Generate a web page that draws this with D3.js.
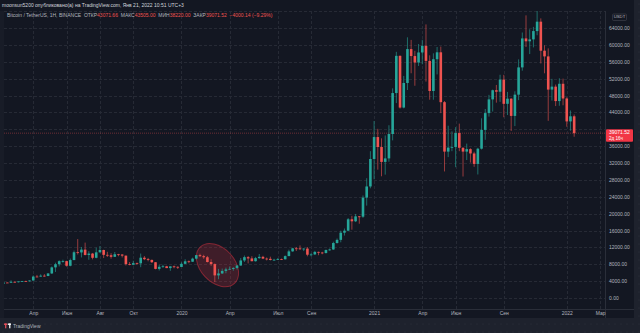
<!DOCTYPE html>
<html>
<head>
<meta charset="utf-8">
<script src="https://cdn.jsdelivr.net/npm/d3@7"></script>
<style>
  html, body { margin: 0; padding: 0; background: #1e222d; overflow: hidden; }
  svg { display: block; font-family: "Liberation Sans", Arial, sans-serif; }
</style>
</head>
<body>
<svg id="chart" width="640" height="333"></svg>
<script>
// Weekly BTC/USDT candles (Binance), first bar starts on this Monday
const firstWeek = "2019-01-28";

const opens = [
  3530, 3410, 3660, 3620, 3840, 3830, 3940, 4010, 3990, 4150,
  5080, 5070, 5290, 5210, 5820, 7260, 8000, 8730, 8740, 7640,
  8990, 10850, 10800, 11470, 10200, 10530, 9530, 10820, 11380, 10230,
  10140, 9760, 10370, 10310, 10040, 8040, 7880, 8270, 8220, 9550,
  9200, 9030, 8480, 6900, 7400, 7510, 7090, 7500, 7390,
  7360, 8100, 8700, 8600, 9330, 10160, 9920, 9660, 8530, 8040,
  5360, 5820, 6420, 6780, 6900, 7120, 7700, 8900, 9680, 9380,
  8720, 9450, 9760, 9340, 9290, 9010, 9070, 9240, 9170, 9930,
  11050, 11770, 11760, 11650, 11710, 10260, 10330, 10930, 10770, 10670,
  11370, 11500, 13030, 13780, 15480, 15960, 18660, 18180, 19350, 19270,
  23800, 26440,
  32950, 38150, 35790, 32260, 33090, 38870, 48580, 57400, 45140, 50970,
  59000, 57350, 55820, 58200, 59770, 56200, 49070, 56600, 58240, 46420,
  34700, 35650, 35800, 39100, 35600, 34700, 35290, 34260, 31780, 35390,
  39850, 43830, 47080, 49250, 48900, 51770, 46030, 47250, 43160, 48200,
  54660, 61530, 60850, 61300, 63270, 65500, 58620, 57270, 49400, 50100,
  46680, 50780,
  47290, 41860, 43071.66
];
const highs = [
  3590, 3720, 3700, 4200, 3920, 3950, 4050, 4110, 4190, 5350,
  5470, 5610, 5650, 5900, 7470, 8370, 8940, 9080, 8830, 9350,
  11250, 13970, 12100, 13130, 11090, 10680, 11940, 12330, 11450, 10950,
  10630, 10900, 10460, 10360, 10070, 8520, 8830, 8410, 10540, 9940,
  9510, 9100, 8500, 7880, 7890, 7620, 7520, 7700, 7500,
  8460, 9190, 8900, 9560, 10160, 10500, 10250, 9970, 9190, 8180,
  6900, 6980, 7200, 7470, 7290, 7780, 9470, 10070, 9950, 9900,
  9740, 10430, 10000, 9600, 9800, 9290, 9470, 9340, 10100, 11450,
  11900, 12090, 12470, 11800, 12090, 10600, 11180, 10990, 10950, 11490,
  11720, 13350, 14100, 15960, 16480, 18950, 19480, 19920, 19420, 24300,
  28400, 34800,
  41950, 40100, 37850, 38530, 40950, 49700, 58350, 57500, 52640, 61790,
  61180, 58600, 60200, 61200, 64850, 57520, 58000, 59500, 59600, 46700,
  40840, 39500, 40500, 41330, 35750, 36600, 35500, 34670, 35600, 42600,
  44800, 48150, 49400, 50500, 52920, 52900, 48850, 47350, 49000, 56560,
  62930, 67000, 63700, 64270, 69000, 66280, 59900, 59180, 51950, 50600,
  52090, 52000,
  47570, 44450, 43505
];
const lows = [
  3340, 3370, 3560, 3600, 3650, 3670, 3800, 3920, 3900, 4100,
  4940, 5040, 5060, 5180, 5690, 6180, 7480, 8380, 7440, 7510,
  8970, 10310, 9610, 10100, 9070, 9160, 9410, 10800, 9460, 9740,
  9320, 9730, 9890, 9610, 7710, 7750, 7770, 7860, 7300, 8980,
  8700, 8300, 6790, 6520, 7180, 7080, 6440, 7050, 6870,
  7350, 8040, 8240, 8560, 9150, 9720, 9300, 8440, 7630, 3780,
  4450, 5700, 5860, 6760, 6460, 6760, 7630, 8530, 8200, 8700,
  8630, 9290, 9220, 8910, 8900, 8900, 9040, 9000, 9140, 9920,
  10960, 11130, 11380, 11120, 9880, 9880, 10200, 10140, 10370, 10530,
  11200, 11400, 12900, 13200, 14800, 15800, 16200, 18000, 17600, 19000,
  21900, 26000,
  28130, 30420, 28850, 29240, 32300, 37360, 46200, 44900, 44950, 49300,
  53270, 50310, 55000, 55400, 51300, 47000, 47000, 53000, 43820, 30000,
  33400, 34800, 31000, 34800, 28800, 32700, 32100, 31100, 29280, 35200,
  37500, 43000, 44200, 46300, 46500, 42840, 43370, 39600, 40750, 46900,
  53880, 59500, 57820, 59400, 62280, 55600, 53260, 42000, 46800, 45500,
  45560, 45680,
  40600, 39650, 38220
];
const closes = [
  3410, 3660, 3620, 3840, 3830, 3940, 4010, 3990, 4150, 5080,
  5070, 5290, 5210, 5820, 7260, 8000, 8730, 8740, 7640, 8990,
  10850, 10800, 11470, 10200, 10530, 9530, 10820, 11380, 10230, 10140,
  9760, 10370, 10310, 10040, 8040, 7880, 8270, 8220, 9550, 9200,
  9030, 8480, 6900, 7400, 7510, 7090, 7500, 7390, 7360,
  8100, 8700, 8600, 9330, 10160, 9920, 9660, 8530, 8040, 5360,
  5820, 6420, 6780, 6900, 7120, 7700, 8900, 9680, 9380, 8720,
  9450, 9760, 9340, 9290, 9010, 9070, 9240, 9170, 9930, 11050,
  11770, 11760, 11650, 11710, 10260, 10330, 10930, 10770, 10670, 11370,
  11500, 13030, 13780, 15480, 15960, 18660, 18180, 19350, 19270, 23800,
  26440, 32950,
  38150, 35790, 32260, 33090, 38870, 48580, 57400, 45140, 50970, 59000,
  57350, 55820, 58200, 59770, 56200, 49070, 56600, 58240, 46420, 34700,
  35650, 35800, 39100, 35600, 34700, 35290, 34260, 31780, 35390, 39850,
  43830, 47080, 49250, 48900, 51770, 46030, 47250, 43160, 48200, 54660,
  61530, 60850, 61300, 63270, 65500, 58620, 57270, 49400, 50100, 46680,
  50780, 47290,
  41860, 43070, 39071.52
];

// Price scale ticks and time axis labels
const priceTicks = [0, 4000, 8000, 12000, 16000, 20000, 24000, 28000, 32000,
  36000, 40000, 44000, 48000, 52000, 56000, 60000, 64000];
const timeTicks = ["2019-04-01", "2019-06-03", "2019-08-05", "2019-10-07",
  "2020-01-06", "2020-04-06", "2020-07-06", "2020-09-07",
  "2021-01-04", "2021-04-05", "2021-06-07", "2021-09-06",
  "2022-01-03", "2022-03-07"];
const timeLabels = ["Апр", "Июн", "Авг", "Окт", "2020", "Апр", "Июл", "Сен",
  "2021", "Апр", "Июн", "Сен", "2022", "Мар"];

// Highlighted area around the March 2020 crash
const markDate = "2020-03-14";
const markPrice = 7800;

const headerTitle = "moonsun5200 опубликовано(а) на TradingView.com, Янв 21, 2022 10:51 UTC+3";
const legendParts = [
  ["Bitcoin / TetherUS, 1Н, BINANCE  ОТКР", "#b2b5be"], ["43071.66", "#ef5350"],
  ["  МАКС", "#b2b5be"], ["43505.00", "#ef5350"],
  ["  МИН", "#b2b5be"], ["38220.00", "#ef5350"],
  ["  ЗАКР", "#b2b5be"], ["39071.52", "#ef5350"],
  ["  −4000.14 (−9.29%)", "#ef5350"]
];
const countdown = "2д 16ч";

// ---- layout ----
const W = 640, H = 333;
const pane = { left: 4, right: 605, top: 11, bottom: 309 };
const axisRight = 634, footerTop = 318;
const UP = "#26a69a", DOWN = "#ef5350";
const GRID = "#262a35", TEXT = "#b2b5be";

const svg = d3.select("#chart");
const defs = svg.append("defs");

const dots = defs.append("pattern").attr("id", "dots")
  .attr("width", 6).attr("height", 8).attr("patternUnits", "userSpaceOnUse");
dots.append("rect").attr("width", 6).attr("height", 8).attr("fill", "#1e222d");
dots.append("circle").attr("cx", 3).attr("cy", 4).attr("r", 0.5).attr("fill", "#2e3240");

defs.append("clipPath").attr("id", "paneClip").append("rect")
  .attr("x", pane.left).attr("y", pane.top)
  .attr("width", pane.right - pane.left).attr("height", pane.bottom - pane.top);

// frame
svg.append("rect").attr("width", W).attr("height", H).attr("fill", "url(#dots)");
svg.append("rect").attr("x", 0).attr("y", 0).attr("width", axisRight).attr("height", footerTop)
  .attr("fill", "#131722");
svg.append("rect").attr("x", 0).attr("y", pane.top).attr("width", pane.left).attr("height", footerTop - pane.top)
  .attr("fill", "#181c27");

const x = d3.scaleUtc()
  .domain([new Date("2018-12-31"), new Date("2022-03-07")])
  .range([-14.9, 600.1]);
const y = d3.scaleLinear().domain([0, 64000]).range([298, 28]);

const weeks = d3.utcMonday.range(new Date(firstWeek),
  d3.utcMonday.offset(new Date(firstWeek), opens.length));
const candles = weeks.map((d, i) => ({
  date: d, o: opens[i], h: highs[i], l: lows[i], c: closes[i]
}));
const last = candles[candles.length - 1];

// grid
const grid = svg.append("g");
grid.selectAll("line.h").data(priceTicks.concat([68000])).join("line")
  .attr("x1", pane.left).attr("x2", pane.right)
  .attr("y1", d => Math.round(y(d)) + 0.5).attr("y2", d => Math.round(y(d)) + 0.5)
  .attr("stroke", GRID).attr("stroke-width", 1).attr("stroke-dasharray", "3,2");
grid.selectAll("line.v").data(timeTicks).join("line")
  .attr("x1", d => Math.round(x(new Date(d))) + 0.5).attr("x2", d => Math.round(x(new Date(d))) + 0.5)
  .attr("y1", pane.top).attr("y2", pane.bottom)
  .attr("stroke", GRID).attr("stroke-width", 1).attr("stroke-dasharray", "3,2");

// annotation ellipse
const mx = x(new Date(markDate)), my = y(markPrice);
svg.append("ellipse")
  .attr("cx", 0).attr("cy", 0).attr("rx", 25).attr("ry", 17)
  .attr("transform", `translate(${mx},${my}) rotate(47)`)
  .attr("fill", "rgba(242,54,69,0.2)")
  .attr("stroke", "rgba(242,54,69,0.45)").attr("stroke-width", 1);

// last price line (drawn under the candles)
svg.append("line")
  .attr("x1", pane.left).attr("x2", pane.right)
  .attr("y1", y(last.c)).attr("y2", y(last.c))
  .attr("stroke", DOWN).attr("stroke-opacity", 0.4).attr("stroke-width", 1)
  .attr("stroke-dasharray", "1,1");

// candles
const plot = svg.append("g").attr("clip-path", "url(#paneClip)");
const bw = 2.6;
const cg = plot.selectAll("g.c").data(candles).join("g");
cg.append("line")
  .attr("x1", d => x(d.date)).attr("x2", d => x(d.date))
  .attr("y1", d => y(d.h)).attr("y2", d => y(d.l))
  .attr("stroke", d => d.c >= d.o ? UP : DOWN).attr("stroke-opacity", 0.6).attr("stroke-width", 1);
cg.append("rect")
  .attr("x", d => x(d.date) - bw / 2).attr("width", bw)
  .attr("y", d => y(Math.max(d.o, d.c)))
  .attr("height", d => Math.max(0.8, Math.abs(y(d.o) - y(d.c))))
  .attr("fill", d => d.c >= d.o ? UP : DOWN);

// pane borders
svg.append("line").attr("x1", pane.right + 0.5).attr("x2", pane.right + 0.5)
  .attr("y1", pane.top).attr("y2", footerTop).attr("stroke", "#2a2e39");
svg.append("line").attr("x1", pane.left).attr("x2", axisRight)
  .attr("y1", pane.bottom + 0.5).attr("y2", pane.bottom + 0.5).attr("stroke", "#2a2e39");

// price axis: labels covered by the last-price tag are left out
const ly = y(last.c);
const shownTicks = priceTicks.filter(v => Math.abs(y(v) - (ly + 2)) > 9);
const yAxis = d3.axisRight(y).tickValues(shownTicks).tickFormat(d3.format(".2f"))
  .tickSize(0).tickPadding(4);
const ya = svg.append("g").attr("transform", `translate(${pane.right},0)`).call(yAxis);
ya.select(".domain").remove();
ya.selectAll("text").attr("fill", TEXT).style("font-size", "5px")
  .style("font-family", "'Liberation Sans', Arial, sans-serif");

// currency tag
svg.append("rect").attr("x", 612.5).attr("y", 14).attr("width", 14).attr("height", 6.5)
  .attr("rx", 1).attr("fill", "#131722").attr("stroke", "#434651").attr("stroke-width", 0.6);
svg.append("text").attr("x", 619.5).attr("y", 17.3).attr("text-anchor", "middle")
  .attr("dominant-baseline", "middle").attr("fill", TEXT).style("font-size", "4.3px").text("USDT");

// last price tag
svg.append("rect").attr("x", pane.right + 1).attr("y", ly - 4).attr("width", 27).attr("height", 12.5)
  .attr("rx", 1).attr("fill", "#f23645");
svg.append("text").attr("x", 609).attr("y", ly).attr("dominant-baseline", "middle")
  .attr("fill", "#ffffff").style("font-size", "5px").text(d3.format(".2f")(last.c));
svg.append("text").attr("x", 609).attr("y", ly + 5.5).attr("dominant-baseline", "middle")
  .attr("fill", "#ffffff").style("font-size", "4.6px").text(countdown);

// time axis
const xAxis = d3.axisBottom(x).tickValues(timeTicks.map(d => new Date(d)))
  .tickFormat((d, i) => timeLabels[i]).tickSize(0).tickPadding(2.5);
const xa = svg.append("g").attr("transform", `translate(0,${pane.bottom})`).call(xAxis);
xa.select(".domain").remove();
xa.selectAll("text").attr("fill", TEXT).style("font-size", "5px")
  .style("font-family", "'Liberation Sans', Arial, sans-serif");

// header
svg.append("text").attr("x", 2).attr("y", 5.5).attr("dominant-baseline", "middle")
  .attr("fill", "#d1d4dc").style("font-size", "5px").text(headerTitle);
const legend = svg.append("text").attr("x", 7).attr("y", 16).attr("dominant-baseline", "middle")
  .style("font-size", "5px").attr("xml:space", "preserve");
legendParts.forEach(([t, c]) => legend.append("tspan").attr("fill", c).text(t));

// footer logo
const logo = svg.append("g").attr("transform", "translate(4,323.5)");
logo.append("rect").attr("x", 0).attr("y", 0).attr("width", 3.2).attr("height", 1.4).attr("fill", "#e84f5a");
logo.append("rect").attr("x", 1.1).attr("y", 0).attr("width", 1.2).attr("height", 4.8).attr("fill", "#e84f5a");
logo.append("rect").attr("x", 3.8).attr("y", 0).attr("width", 3.2).attr("height", 1.4).attr("fill", "#ffffff");
logo.append("rect").attr("x", 5.2).attr("y", 0).attr("width", 1.2).attr("height", 4.8).attr("fill", "#ffffff");
svg.append("text").attr("x", 13).attr("y", 326.2).attr("dominant-baseline", "middle")
  .attr("fill", TEXT).style("font-size", "5px").text("TradingView");
</script>
</body>
</html>
